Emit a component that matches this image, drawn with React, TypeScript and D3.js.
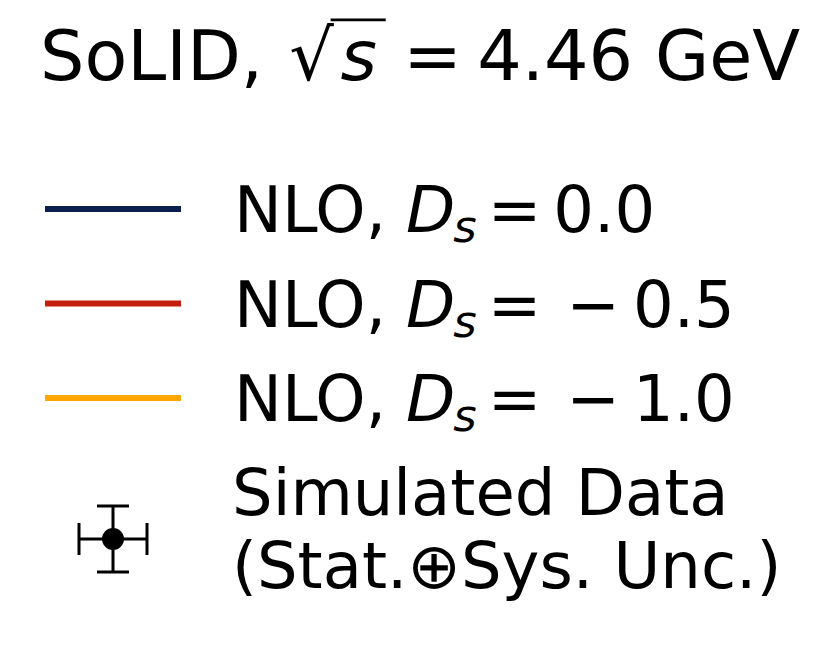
import React, { useEffect, useRef } from 'react'
import * as d3 from 'd3'

// legend data
const titleText = 'SoLID,'
const sqrtS = 4.46
const energyUnit = 'GeV'
const modelName = 'NLO,'
const dsValues = [0.0, -0.5, -1.0]
const lineColors = ['#0b1f4e', '#c41f0c', '#ffa500']
const dataLabel = ['Simulated Data', '(Stat.\u2295Sys. Unc.)']

const W = 832
const H = 656
const FONT = 'DejaVu Sans, Liberation Sans, sans-serif'
const FS = 64

type Seg = { t: string; italic?: boolean; size?: number; dy?: number; gap?: number }

// lay out a run of text pieces, left to right, and return the pieces' nodes
function layoutSegs(g: any, segs: Seg[], x0: number, baseline: number) {
  let x = x0
  const nodes: { x: number; w: number }[] = []
  segs.forEach(s => {
    x += s.gap || 0
    const t = g.append('text')
      .attr('x', x)
      .attr('y', baseline + (s.dy || 0))
      .style('font-family', FONT)
      .style('font-size', `${s.size || FS}px`)
      .style('font-style', s.italic ? 'italic' : 'normal')
      .style('fill', '#000')
      .text(s.t)
    const w = (t.node() as SVGTextElement).getComputedTextLength()
    nodes.push({ x, w })
    x += w
  })
  return nodes
}

function dsSegs(v: number): Seg[] {
  const str = d3.format('.1f')(v)
  const neg = str.startsWith('\u2212') || str.startsWith('-')
  const segs: Seg[] = [
    { t: modelName },
    { t: 'D', italic: true, gap: 20 },
    { t: 's', italic: true, size: 45, dy: 10, gap: -2 },
    { t: '=', gap: 11 },
  ]
  if (neg) {
    segs.push({ t: '\u2212', gap: 25 })
    segs.push({ t: str.slice(1), gap: 13 })
  } else {
    segs.push({ t: str, gap: 12 })
  }
  return segs
}

const App = () => {
  const ref = useRef<SVGSVGElement>(null)

  useEffect(() => {
    const svg = d3.select(ref.current)
    svg.selectAll('*').remove()
    const g = svg.append('g')

    // title, a little larger than the legend text
    const tx = 40, tb = 80, ts = 1.094
    const tg = g.append('g')
      .attr('transform', `translate(${tx},${tb}) scale(${ts}) translate(${-tx},${-tb})`)
    const title = layoutSegs(tg, [
      { t: titleText },
      { t: '\u221a', gap: 24 },
      { t: 's', italic: true, gap: 6 },
      { t: '=', gap: 24 },
      { t: d3.format('.2f')(sqrtS), gap: 14 },
      { t: energyUnit, gap: 20 },
    ], tx, tb)
    const rad = title[1]
    const sv = title[2]
    tg.append('line')
      .attr('x1', rad.x + rad.w - 3)
      .attr('x2', sv.x + sv.w + 8)
      .attr('y1', 25).attr('y2', 25)
      .attr('stroke', '#000').attr('stroke-width', 2.6)

    // model curves
    const y = d3.scaleLinear().domain([0, dsValues.length - 1]).range([209, 398])
    dsValues.forEach((v, i) => {
      g.append('line')
        .attr('x1', 45).attr('x2', 181)
        .attr('y1', y(i)).attr('y2', y(i))
        .attr('stroke', lineColors[i]).attr('stroke-width', 6)
      layoutSegs(g, dsSegs(v), 234, y(i) + 23)
    })

    // simulated data entry
    const my = 539, mx = 113, ex = 34, ey = 33, cap = 16
    const mk = g.append('g').attr('stroke', '#000').attr('stroke-width', 3)
    mk.append('line').attr('x1', mx - ex).attr('x2', mx + ex).attr('y1', my).attr('y2', my)
    mk.append('line').attr('x1', mx).attr('x2', mx).attr('y1', my - ey).attr('y2', my + ey)
    ;[mx - ex, mx + ex].forEach(cx => mk.append('line').attr('x1', cx).attr('x2', cx).attr('y1', my - cap).attr('y2', my + cap))
    ;[my - ey, my + ey].forEach(cy => mk.append('line').attr('x1', mx - cap).attr('x2', mx + cap).attr('y1', cy).attr('y2', cy))
    g.append('circle').attr('cx', mx).attr('cy', my).attr('r', 11).attr('fill', '#000')

    dataLabel.forEach((l, i) => {
      layoutSegs(g, [{ t: l }], 232, 515 + i * 73)
    })
  }, [])

  return (
    <svg ref={ref} width={W} height={H} style={{ display: 'block', margin: -8, background: '#fff' }} />
  )
}

export default App
